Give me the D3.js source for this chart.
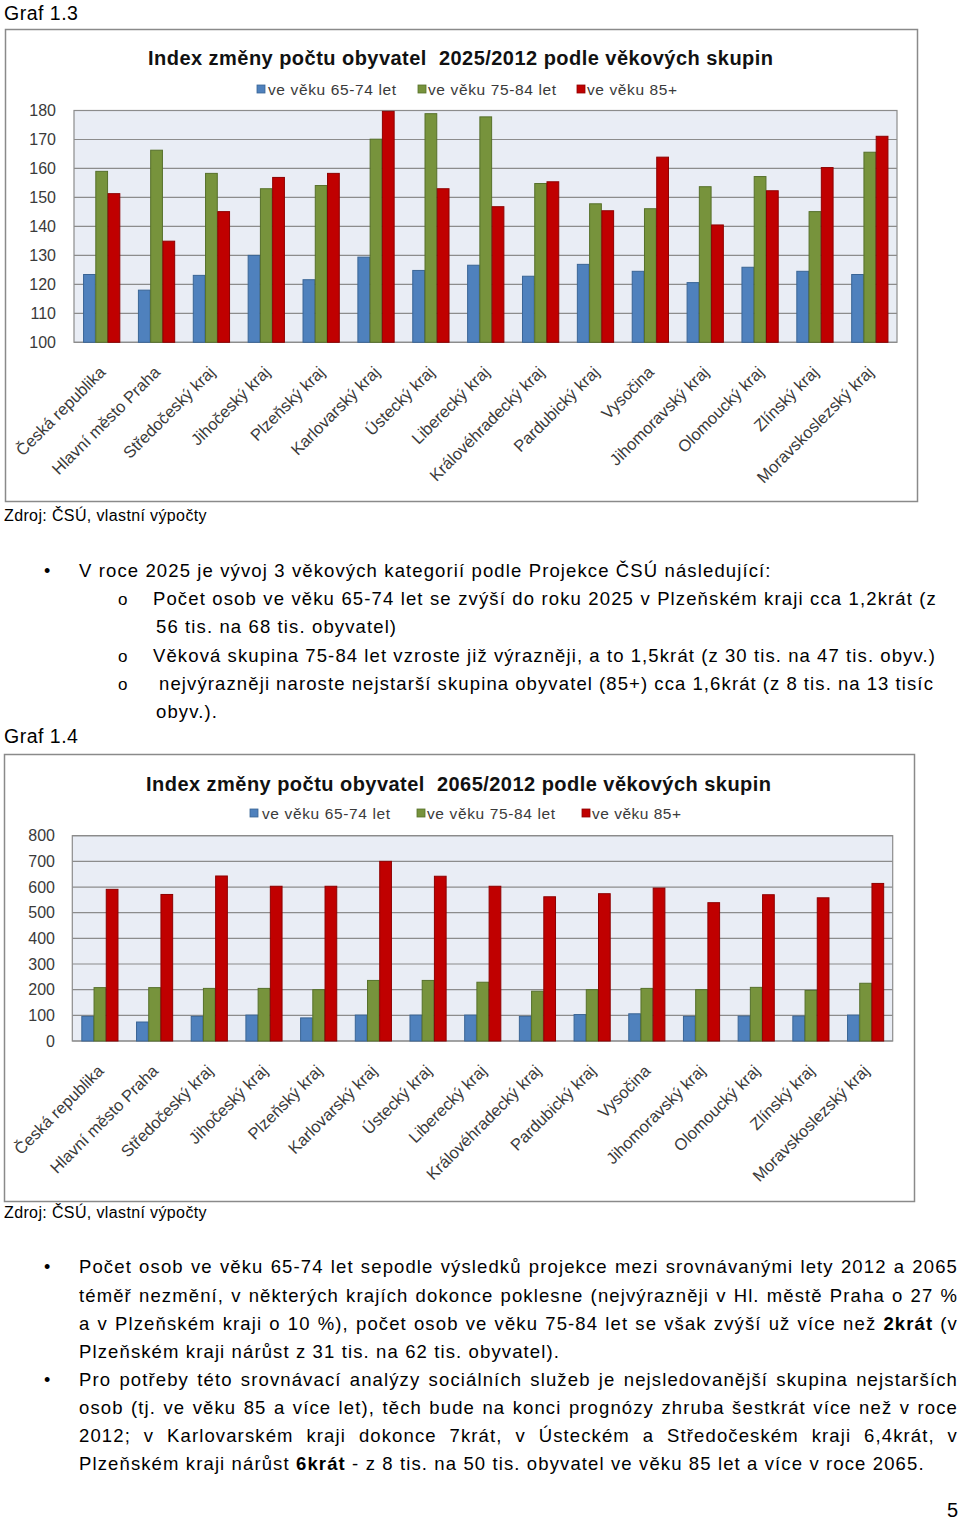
<!DOCTYPE html>
<html><head><meta charset="utf-8">
<script src="https://cdn.jsdelivr.net/npm/d3@7"></script>
<style>
body{margin:0;background:#fff;}
svg{display:block;font-family:"Liberation Sans",Arial,Helvetica,sans-serif;}
</style></head>
<body>
<script>
// ---------- DATA ----------
const regions = ["Česká republika","Hlavní město Praha","Středočeský kraj","Jihočeský kraj","Plzeňský kraj","Karlovarský kraj","Ústecký kraj","Liberecký kraj","Královéhradecký kraj","Pardubický kraj","Vysočina","Jihomoravský kraj","Olomoucký kraj","Zlínský kraj","Moravskoslezský kraj"];
const seriesNames = ["ve věku 65-74 let","ve věku 75-84 let","ve věku 85+"];
const idx2025_65_74 = [123.4,118.0,123.1,130.0,121.6,129.4,124.8,126.6,122.8,126.9,124.5,120.6,125.9,124.5,123.4];
const idx2025_75_84 = [159.0,166.3,158.3,153.0,154.1,170.1,178.9,177.8,154.8,147.8,146.1,153.7,157.2,145.1,165.6];
const idx2025_85 = [151.3,134.9,145.1,156.9,158.3,179.7,153.0,146.8,155.4,145.4,163.9,140.5,152.3,160.3,171.1];
const idx2065_65_74 = [96,74,96,101,90,101,101,101,96,103,106,96,97,97,101];
const idx2065_75_84 = [208,208,205,205,200,236,236,229,194,200,205,200,209,197,225];
const idx2065_85 = [591,571,643,603,603,700,642,603,562,574,596,539,570,558,614];
const ticks2025 = [100,110,120,130,140,150,160,170,180];
const ticks2065 = [0,100,200,300,400,500,600,700,800];
const title2025 = "Index změny počtu obyvatel  2025/2012 podle věkových skupin";
const title2065 = "Index změny počtu obyvatel  2065/2012 podle věkových skupin";
const sourceText = "Zdroj: ČSÚ, vlastní výpočty";

const fills = ["#4F81BD","#77933C","#C00000"];
const strokes = ["#3A6595","#56702A","#8E0000"];

const svg = d3.select("body").append("svg").attr("width",960).attr("height",1523);

function drawChart(cfg){
  const g = svg.append("g");
  g.append("rect").attr("x",cfg.frame[0]).attr("y",cfg.frame[1]).attr("width",cfg.frame[2]).attr("height",cfg.frame[3])
    .attr("fill","#fff").attr("stroke","#8a8a8a").attr("stroke-width",1.5);
  const y = d3.scaleLinear().domain(cfg.domain).range([cfg.bottom,cfg.top]);
  const x = d3.scaleBand().domain(regions).range([cfg.left,cfg.right]).paddingInner(0.33).paddingOuter(0.165);
  g.append("rect").attr("x",cfg.left).attr("y",cfg.top).attr("width",cfg.right-cfg.left).attr("height",cfg.bottom-cfg.top)
    .attr("fill","#E9EDF5");
  g.selectAll(".grid").data(cfg.ticks).join("line")
    .attr("x1",cfg.left).attr("x2",cfg.right).attr("y1",d=>y(d)).attr("y2",d=>y(d))
    .attr("stroke","#8c8c8c").attr("stroke-width",1.2);
  g.append("rect").attr("x",cfg.left).attr("y",cfg.top).attr("width",cfg.right-cfg.left).attr("height",cfg.bottom-cfg.top)
    .attr("fill","none").attr("stroke","#8c8c8c").attr("stroke-width",1.2);
  const yAxis = d3.axisLeft(y).tickValues(cfg.ticks).tickSize(0).tickPadding(0);
  const ya = g.append("g").attr("transform",`translate(${cfg.labelRight},0)`).call(yAxis);
  ya.select(".domain").remove();
  ya.selectAll("text").attr("font-size",16).attr("fill","#3a3a3a").attr("font-family","Liberation Sans, Arial, sans-serif");
  const bw = x.bandwidth()/3;
  cfg.series.forEach((vals,si)=>{
    g.selectAll(".b"+si).data(vals).join("rect")
      .attr("x",(d,i)=>x(regions[i])+si*bw+0.5)
      .attr("width",bw-0.5)
      .attr("y",d=>y(d))
      .attr("height",d=>cfg.bottom-y(d))
      .attr("fill",fills[si]).attr("stroke",strokes[si]).attr("stroke-width",1);
  });
  g.selectAll(".xl").data(regions).join("text")
    .attr("transform",d=>`translate(${x(d)+x.bandwidth()/2+5},${cfg.bottom+31}) rotate(-45)`)
    .attr("text-anchor","end").attr("font-size",16.5).attr("fill","#3a3a3a").text(d=>d);
  g.append("text").attr("x",cfg.titleX).attr("y",cfg.titleY).attr("text-anchor","middle")
    .attr("font-size",20).attr("font-weight","bold").attr("fill","#111")
    .attr("textLength",cfg.titleW).attr("lengthAdjust","spacing")
    .style("white-space","pre").text(cfg.title);
  seriesNames.forEach((s,i)=>{
    const L = cfg.legend[i];
    g.append("rect").attr("x",L[0]).attr("y",cfg.legendY-10).attr("width",8).attr("height",8)
      .attr("fill",fills[i]).attr("stroke",strokes[i]).attr("stroke-width",0.8);
    g.append("text").attr("x",L[1]).attr("y",cfg.legendY).attr("font-size",15.5).attr("fill","#3a3a3a")
      .attr("textLength",L[2]).attr("lengthAdjust","spacing").text(s);
  });
}

drawChart({frame:[5.5,29.5,912,472],left:74,right:897,top:110.5,bottom:342.3,domain:[100,180],ticks:ticks2025,
  labelRight:56,series:[idx2025_65_74,idx2025_75_84,idx2025_85],title:title2025,titleX:460.5,titleY:65,titleW:625,
  legendY:95,legend:[[257,268,128],[418,428,128],[577,587,90]]});
drawChart({frame:[4.5,754.5,910,447],left:72.3,right:892.7,top:835.7,bottom:1041,domain:[0,800],ticks:ticks2065,
  labelRight:55,series:[idx2065_65_74,idx2065_75_84,idx2065_85],title:title2065,titleX:458.5,titleY:791,titleW:625,
  legendY:819,legend:[[250,262,128],[417,427,128],[582,592,89]]});

// ---------- TEXT ----------
const bodyFont = 18.5, bodyLS = 1.12;
function line(x,yy,parts,justifyTo,size,ls){
  const t = svg.append("text").attr("x",x).attr("y",yy).attr("font-size",size||bodyFont).attr("fill","#000")
    .style("letter-spacing",(ls===undefined?bodyLS:ls)+"px").style("white-space","pre");
  (typeof parts==="string"?[[parts,false]]:parts).forEach(p=>{
    t.append("tspan").attr("font-weight",p[1]?"bold":"normal").text(p[0]);
  });
  if(justifyTo){
    const w = t.node().getComputedTextLength();
    const n = (t.text().match(/ /g)||[]).length;
    if(n) t.style("word-spacing",((justifyTo-x-w)/n)+"px");
  }
  return t;
}
function bullet(yy){ svg.append("text").attr("x",44).attr("y",yy).attr("font-size",18).text("•"); }
function sub(yy){ svg.append("text").attr("x",118).attr("y",yy).attr("font-size",17).text("o"); }

line(4,20,"Graf 1.3",null,19.5,0.5);
line(4,521,sourceText,null,16,0.37);
bullet(577); line(79,577,"V roce 2025 je vývoj 3 věkových kategorií podle Projekce ČSÚ následující:");
sub(605); line(153,605,"Počet osob ve věku 65-74 let se zvýší do roku 2025 v Plzeňském kraji cca 1,2krát (z",937);
line(156,633,"56 tis. na 68 tis. obyvatel)");
sub(661.7); line(153,661.7,"Věková skupina 75-84 let vzroste již výrazněji, a to 1,5krát (z 30 tis. na 47 tis. obyv.)",936);
sub(690); line(159,690,"nejvýrazněji naroste nejstarší skupina obyvatel (85+) cca 1,6krát (z 8 tis. na 13 tisíc",934);
line(156,718,"obyv.).");
line(4,743,"Graf 1.4",null,19.5,0.5);
line(4,1218,sourceText,null,16,0.37);

bullet(1273); line(79,1273,"Počet osob ve věku 65-74 let sepodle výsledků projekce mezi srovnávanými lety 2012 a 2065",958);
line(79,1301.7,"téměř nezmění, v některých krajích dokonce poklesne (nejvýrazněji v Hl. městě Praha o 27 %",958);
line(79,1329.5,[["a v Plzeňském kraji o 10 %), počet osob ve věku 75-84 let se však zvýší už více než ",false],["2krát",true],[" (v",false]],958);
line(79,1357.5,"Plzeňském kraji nárůst z 31 tis. na 62 tis. obyvatel).");
bullet(1385.7); line(79,1385.7,"Pro potřeby této srovnávací analýzy sociálních služeb je nejsledovanější skupina nejstarších",958);
line(79,1414,"osob (tj. ve věku 85 a více let), těch bude na konci prognózy zhruba šestkrát více než v roce",958);
line(79,1442,"2012; v Karlovarském kraji dokonce 7krát, v Ústeckém a Středočeském kraji 6,4krát, v",958);
line(79,1470,[["Plzeňském kraji nárůst ",false],["6krát",true],[" - z 8 tis. na 50 tis. obyvatel ve věku 85 let a více v roce 2065.",false]]);
line(947,1517,"5",null,20,0);
</script>
</body></html>
